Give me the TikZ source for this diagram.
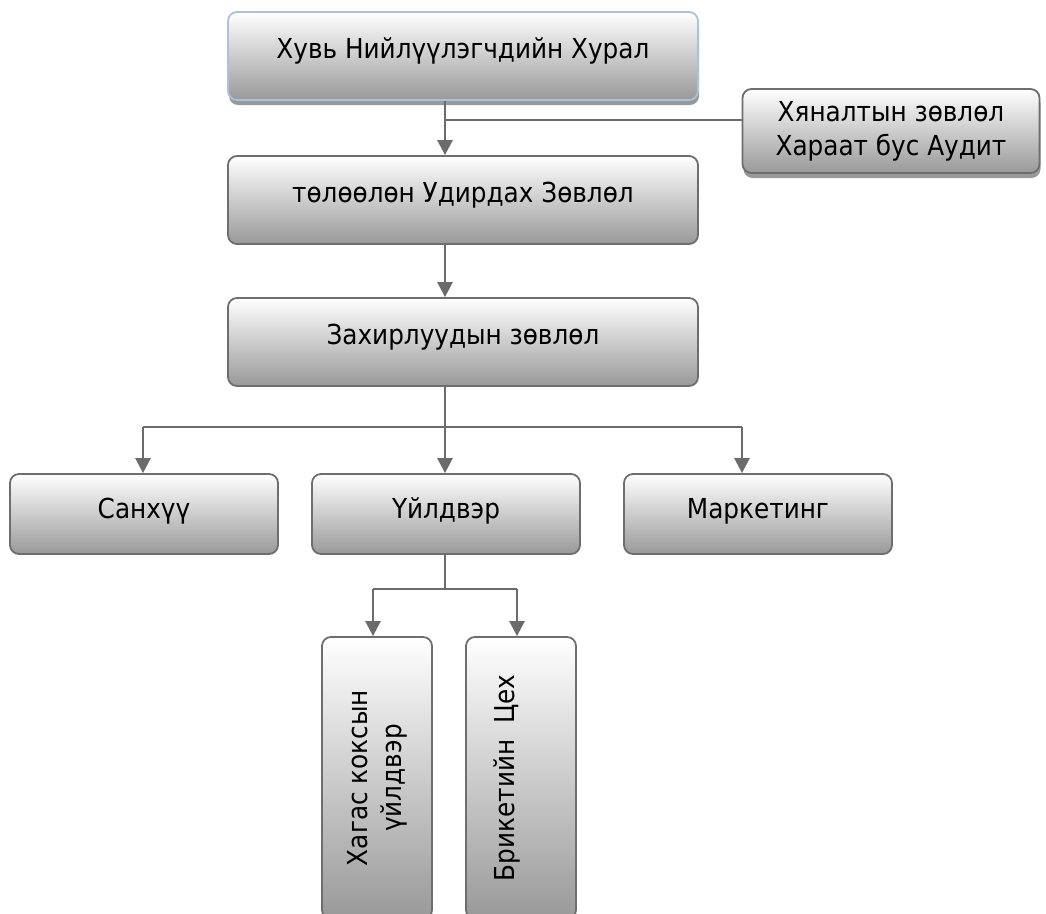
\documentclass[tikz,border=0pt]{standalone}
\usepackage{fontspec}
\setmainfont{DejaVu Sans Condensed}
\usetikzlibrary{positioning,shadows,arrows.meta}
\definecolor{linegray}{HTML}{6B6B6B}
\definecolor{edgegray}{HTML}{6E6E6E}
\definecolor{shadegray}{HTML}{999999}
\definecolor{edgeblue}{HTML}{A9C2E0}
\tikzset{
  orgbox/.style={draw=edgegray, line width=1.8pt, rounded corners=9pt,
    top color=white, bottom color=shadegray, inner sep=0pt,
    font=\fontsize{27.5}{34}\selectfont},
  widebox/.style={orgbox, minimum width=470pt, minimum height=88pt, text depth=16pt},
  unitbox/.style={orgbox, minimum width=268pt, minimum height=80pt, text depth=12pt},
  tallbox/.style={orgbox, rotate=90, minimum width=282pt, minimum height=110pt},
  boxshadow/.style={drop shadow={shadow xshift=1pt, shadow yshift=-5pt,
    fill=black!40, opacity=1}},
  conn/.style={draw=linegray, line width=2.6pt},
  arr/.style={conn, -{Triangle[length=15pt,width=15pt]}}
}
\begin{document}
\begin{tikzpicture}[x=1pt,y=-1pt]
\useasboundingbox (0,0) rectangle (1046,913);
\node[widebox, draw=edgeblue, boxshadow] (hural) at (463,56) {Хувь Нийлүүлэгчдийн Хурал};
\node[orgbox, boxshadow, minimum width=297pt, minimum height=84pt, align=center]
  (hyanalt) at (891,131) {Хяналтын зөвлөл\\Хараат бус Аудит};
\node[widebox] (tuluulun) at (463,200) {төлөөлөн Удирдах Зөвлөл};
\node[widebox] (zahirl) at (463,342) {Захирлуудын зөвлөл};
\node[unitbox] (sanhuu) at (144,514) {Санхүү};
\node[unitbox] (uildver) at (446,514) {Үйлдвэр};
\node[unitbox] (market) at (758,514) {Маркетинг};
\node[tallbox, align=center] (hagas) at (377,778) {Хагас коксын\\үйлдвэр};
\node[tallbox, text depth=33pt] (brik) at (521,778) {Брикетийн\ \ Цех};
% connectors
\coordinate (trunk) at (445,0);
\coordinate (tap) at (445,120);
\draw[arr] (hural.south -| trunk) -- (tuluulun.north -| trunk);
\draw[conn] (tap) -- (tap -| hyanalt.west);
\draw[arr] (tuluulun.south -| trunk) -- (zahirl.north -| trunk);
\coordinate (split) at (445,427);
\coordinate (lft) at (143,427);
\coordinate (rgt) at (742,427);
\draw[conn] (zahirl.south -| trunk) -- (split);
\draw[conn] (lft) -- (rgt);
\draw[arr] (lft) -- (lft |- sanhuu.north);
\draw[arr] (split) -- (split |- uildver.north);
\draw[arr] (rgt) -- (rgt |- market.north);
\coordinate (split2) at (445,589);
\coordinate (lft2) at (373,589);
\coordinate (rgt2) at (517,589);
\draw[conn] (uildver.south -| trunk) -- (split2);
\draw[conn] (lft2) -- (rgt2);
\draw[arr] (lft2) -- (lft2 |- hagas.east);
\draw[arr] (rgt2) -- (rgt2 |- brik.east);
\end{tikzpicture}
\end{document}
